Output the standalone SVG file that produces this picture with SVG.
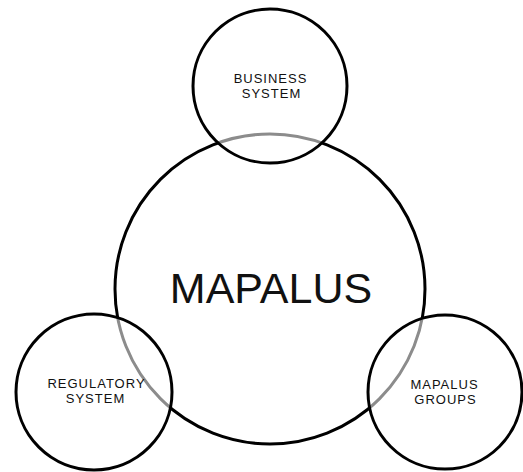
<svg xmlns="http://www.w3.org/2000/svg" width="523" height="472" viewBox="0 0 523 472">
<style>
.ring{fill:none;stroke:#000;stroke-width:3}
.gray{fill:none;stroke:#8c8c8c;stroke-width:3}
.small{font-family:"Liberation Sans",Arial,sans-serif;font-size:13px;letter-spacing:1px;fill:#111;text-anchor:middle}
.big{font-family:"Liberation Sans",Arial,sans-serif;font-size:43px;fill:#111;text-anchor:middle}
</style>
<defs>
<clipPath id="cTop"><circle cx="270" cy="86" r="77"/></clipPath>
<clipPath id="cLeft"><circle cx="94" cy="392" r="78"/></clipPath>
<clipPath id="cRight"><circle cx="445" cy="392" r="77"/></clipPath>
<clipPath id="outside"><path fill-rule="evenodd" clip-rule="evenodd" d="M0 0H523V472H0Z M193 86a77 77 0 1 0 154 0a77 77 0 1 0 -154 0Z M16 392a78 78 0 1 0 156 0a78 78 0 1 0 -156 0Z M368 392a77 77 0 1 0 154 0a77 77 0 1 0 -154 0Z"/></clipPath>
</defs>
<rect width="523" height="472" fill="#fff"/>
<g id="mapalus">
<circle class="ring" cx="270" cy="289" r="155" clip-path="url(#outside)"/>
<circle class="gray" cx="270" cy="289" r="155" clip-path="url(#cTop)"/>
<circle class="gray" cx="270" cy="289" r="155" clip-path="url(#cLeft)"/>
<circle class="gray" cx="270" cy="289" r="155" clip-path="url(#cRight)"/>
<text class="big" x="271" y="303">MAPALUS</text>
</g>
<g id="business">
<circle class="ring" cx="270" cy="86" r="77"/>
<text class="small" x="270.5" y="83">BUSINESS</text>
<text class="small" x="271.5" y="97.5">SYSTEM</text>
</g>
<g id="regulatory">
<circle class="ring" cx="94" cy="392" r="78"/>
<text class="small" x="96.5" y="388">REGULATORY</text>
<text class="small" x="95.5" y="402.5">SYSTEM</text>
</g>
<g id="groups">
<circle class="ring" cx="445" cy="392" r="77"/>
<text class="small" x="444.5" y="389">MAPALUS</text>
<text class="small" x="445.5" y="403.5">GROUPS</text>
</g>
<g id="connectors"></g>
</svg>
